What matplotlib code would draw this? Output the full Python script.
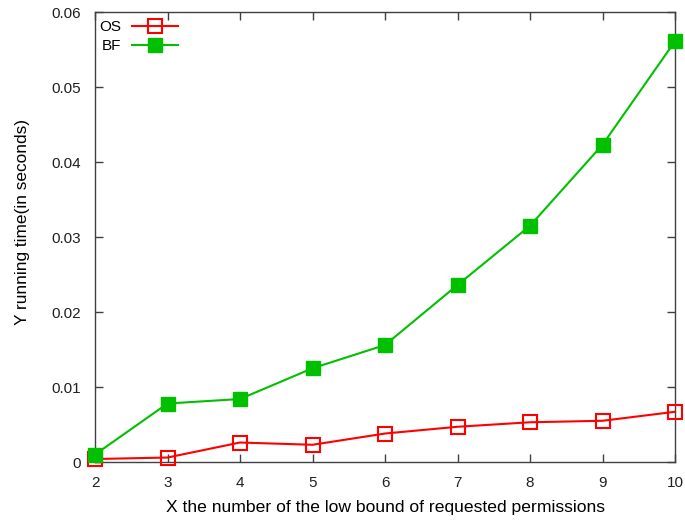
import matplotlib
matplotlib.use("Agg")
import matplotlib.pyplot as plt

plt.rcParams['font.family'] = ['Liberation Sans', 'DejaVu Sans']

# permission lower bound vs running time (seconds)
bounds = [2, 3, 4, 5, 6, 7, 8, 9, 10]
os_time = [0.0004, 0.0006, 0.0026, 0.0023, 0.0038, 0.0047, 0.0053, 0.0055, 0.0067]
bf_time = [0.0010, 0.0078, 0.0084, 0.0125, 0.0156, 0.0236, 0.0315, 0.0423, 0.0561]

fig = plt.figure(figsize=(6.85, 5.22), dpi=100)
ax = fig.add_axes([0.1387, 0.1149, 0.8467, 0.8621])

ax.plot(bounds, os_time, color='#ff0000', lw=1.5, marker='s', ms=9.5,
        mfc='none', mec='#ff0000', mew=1.5, label='OS', clip_on=False, zorder=3)
ax.plot(bounds, bf_time, color='#00c000', lw=1.5, marker='s', ms=9.5,
        mfc='#00c000', mec='#00c000', label='BF', clip_on=False, zorder=3)

ax.set_xlim(2, 10)
ax.set_ylim(0, 0.06)
ax.set_xticks(bounds)
ax.set_yticks([0, 0.01, 0.02, 0.03, 0.04, 0.05, 0.06])
ax.set_yticklabels(['0', '0.01', '0.02', '0.03', '0.04', '0.05', '0.06'])
ax.tick_params(direction='in', top=True, right=True, length=6, width=1,
               labelsize=11, pad=10, color='#404040', labelcolor='#202020')
for s in ax.spines.values():
    s.set_color('#404040')
    s.set_linewidth(1)

ax.set_xlabel('X the number of the low bound of requested permissions', fontsize=12.6, labelpad=7)
ax.set_ylabel('Y running time(in seconds)', fontsize=12.4)
ax.yaxis.set_label_coords(-0.112, 0.533)

ax.legend(loc='upper left', bbox_to_anchor=(-0.003, 0.995), frameon=False,
          markerfirst=False, fontsize=11, handlelength=3.0, borderaxespad=0.0,
          handletextpad=0.7, labelspacing=0.3)

fig.savefig('out.png', dpi=100)
